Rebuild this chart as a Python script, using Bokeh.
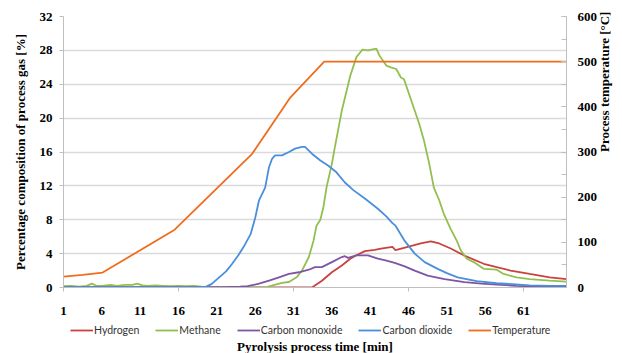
import math
from bokeh.plotting import figure
from bokeh.layouts import column
from bokeh.models import Range1d, LinearAxis, FixedTicker, Legend, LegendItem, Title
from bokeh.embed import file_html
from bokeh.resources import INLINE

# ---------------- data ----------------
x_ticks = [1, 6, 11, 16, 21, 26, 31, 36, 41, 46, 51, 56, 61]
x_marks = [1, 16, 31, 46, 61]
gas_ticks = [0, 4, 8, 12, 16, 20, 24, 28, 32]
temp_ticks = [0, 100, 200, 300, 400, 500, 600]
temp_minor = [0, 50, 100, 150, 200, 250, 300, 350, 400, 450, 500, 550, 600]

hydrogen_t = [1, 33.4, 34.7, 36.0, 37.3, 38.4, 39.2, 40.3, 41.6, 42.4, 43.9, 44.3, 45.9,
              47.6, 48.9, 50.0, 51.5, 53.2, 55.8, 57.5, 59.3, 61.8, 64.4, 66.6]
hydrogen = [0, 0, 0.8, 1.8, 2.6, 3.4, 3.8, 4.3, 4.45, 4.6, 4.8, 4.4, 4.8,
            5.2, 5.45, 5.2, 4.6, 3.8, 2.8, 2.4, 2.0, 1.6, 1.2, 1.0]

methane_t = [1, 2, 3, 4, 4.7, 5.3, 6, 7.1, 8, 9, 10, 10.6, 11.3, 12, 13, 14, 15, 16, 17, 18,
             19, 20, 22, 26, 27.5, 28.5, 29.5, 30.4, 31.4, 32.1, 33.0, 33.6, 34.0, 34.5,
             34.9, 35.3, 36.0, 36.4, 37.3, 38.4, 39.2, 40.0, 40.7, 41.8, 42.2, 43.1, 43.7,
             44.4, 45.0, 45.4, 45.9, 46.5, 47.4, 48.0, 48.7, 49.3, 50.0, 50.6, 51.5, 52.3,
             52.8, 53.6, 54.5, 55.8, 57.5, 58.4, 60.1, 61.8, 64.4, 66.6]
methane = [0.15, 0.2, 0.1, 0.2, 0.45, 0.2, 0.2, 0.3, 0.2, 0.3, 0.3, 0.45, 0.25, 0.2, 0.25,
           0.2, 0.15, 0.2, 0.15, 0.2, 0.1, 0.05, 0.02, 0.0, 0.05, 0.3, 0.55, 0.65, 1.2, 2.0,
           3.6, 5.5, 7.3, 8.0, 9.5, 11.8, 14.6, 16.6, 20.9, 25.0, 27.2, 28.1, 28.0, 28.2,
           27.4, 26.2, 26.0, 25.8, 24.8, 24.6, 23.3, 21.7, 19.3, 17.4, 14.6, 11.8, 10.3, 8.7,
           6.9, 5.5, 4.4, 3.4, 3.0, 2.2, 2.1, 1.6, 1.2, 1.0, 0.8, 0.7]

co_t = [1, 10, 20, 22, 24, 25, 26.5, 27.8, 29.1, 30.4, 31.7, 33.0, 33.8, 34.7, 36.0, 37.3,
        37.7, 38.1, 39.2, 40.7, 42.0, 43.0, 44.2, 45.5, 46.8, 48.5, 50.7, 53.3, 55.5, 57.5,
        60, 61.8, 64, 66.6]
co = [0.05, 0.05, 0.05, 0.05, 0.1, 0.15, 0.45, 0.8, 1.2, 1.6, 1.8, 2.1, 2.4, 2.4, 3.0, 3.6,
      3.7, 3.5, 3.8, 3.8, 3.4, 3.2, 2.9, 2.5, 2.0, 1.4, 1.0, 0.63, 0.45, 0.35, 0.2, 0.15,
      0.12, 0.1]

co2_t = [1, 10, 18.5, 19.6, 20.3, 21.3, 22.2, 23.0, 23.8, 24.5, 25.4, 26.0, 26.5, 27.3, 27.8,
         28.2, 28.6, 29.5, 30.4, 31.2, 32.1, 32.5, 33.4, 34.5, 35.5, 36.6, 37.7, 38.8, 40.3,
         42.0, 43.1, 43.9, 44.3, 45.5, 46.8, 48.1, 49.8, 51.0, 52.4, 54.9, 57.5, 59.5, 61.8,
         64.5, 66.6]
co2 = [0.05, 0.05, 0.05, 0.1, 0.4, 1.2, 1.9, 2.8, 3.8, 4.8, 6.3, 8.2, 10.3, 11.8, 14.2, 15.2,
       15.6, 15.6, 16.0, 16.4, 16.6, 16.6, 15.8, 15.0, 14.4, 13.6, 12.4, 11.5, 10.5, 9.3,
       8.4, 7.6, 7.3, 5.5, 4.0, 3.0, 2.2, 1.7, 1.2, 0.75, 0.5, 0.4, 0.25, 0.2, 0.2]

temp_t = [1, 3.5, 6.1, 15.5, 25.6, 30.6, 35.0, 66.6]
temp = [24, 28, 33, 128, 296, 421, 500, 500]

series = [
    ("Hydrogen", hydrogen_t, hydrogen, "#c9423f", None),
    ("Methane", methane_t, methane, "#92c050", None),
    ("Carbon monoxide", co_t, co, "#7f55a5", None),
    ("Carbon dioxide", co2_t, co2, "#4a8fdb", None),
    ("Temperature", temp_t, temp, "#f06d1e", "temp"),
]

# ---------------- styling ----------------
AXIS_C = "#bfbfbf"
SERIF = "Liberation Serif"
LW = 1.8

# ---------------- main chart ----------------
p = figure(width=622, height=322, output_backend="svg", toolbar_location=None,
           x_range=Range1d(1, 66.6), y_range=Range1d(0, 32),
           min_border_left=63, min_border_right=52, min_border_top=16, min_border_bottom=35)
p.extra_y_ranges = {"temp": Range1d(0, 600)}
p.outline_line_color = None
p.background_fill_color = "white"
p.border_fill_color = "white"

p.xgrid.visible = False
p.ygrid.grid_line_color = "#dadada"
p.ygrid.grid_line_width = 1.5

xa = p.xaxis[0]
xa.ticker = FixedTicker(ticks=x_ticks, minor_ticks=x_marks)
xa.major_tick_out = 0
xa.major_tick_in = 0
xa.minor_tick_out = 4
xa.minor_tick_in = 0
xa.axis_line_color = AXIS_C
xa.minor_tick_line_color = AXIS_C
xa.major_label_text_font = SERIF
xa.major_label_text_font_style = "bold"
xa.major_label_text_font_size = "13px"
xa.major_label_text_color = "black"
xa.major_label_standoff = 15

ya = p.yaxis[0]
ya.ticker = FixedTicker(ticks=gas_ticks)
ya.major_tick_out = 4
ya.major_tick_in = 0
ya.minor_tick_line_color = None
ya.axis_line_color = AXIS_C
ya.major_tick_line_color = AXIS_C
ya.major_label_text_font = SERIF
ya.major_label_text_font_style = "bold"
ya.major_label_text_font_size = "13px"
ya.major_label_text_color = "black"
ya.major_label_standoff = 7
ya.axis_label = "Percentage composition of process gas [%]"
ya.axis_label_text_font = SERIF
ya.axis_label_text_font_style = "bold"
ya.axis_label_text_font_size = "13px"
ya.axis_label_text_color = "black"
ya.axis_label_standoff = 9

ra = LinearAxis(y_range_name="temp", ticker=FixedTicker(ticks=temp_ticks, minor_ticks=temp_minor))
ra.major_tick_in = 5
ra.major_tick_out = 0
ra.minor_tick_in = 5
ra.minor_tick_out = 0
ra.axis_line_color = AXIS_C
ra.major_tick_line_color = AXIS_C
ra.minor_tick_line_color = AXIS_C
ra.major_label_text_font = SERIF
ra.major_label_text_font_style = "bold"
ra.major_label_text_font_size = "13px"
ra.major_label_text_color = "black"
ra.major_label_standoff = 11
ra.axis_label = "Process temperature [°C]"
ra.axis_label_text_font = SERIF
ra.axis_label_text_font_style = "bold"
ra.axis_label_text_font_size = "13px"
ra.axis_label_text_color = "black"
ra.axis_label_standoff = 4
try:
    ra.axis_label_orientation = math.pi / 2
except Exception:
    pass
p.add_layout(ra, "right")

for name, xs, ys, color, rng in series:
    if rng:
        p.line(xs, ys, line_color=color, line_width=LW, y_range_name=rng)
    else:
        p.line(xs, ys, line_color=color, line_width=LW)

# ---------------- legend strip with the x-axis title ----------------
q = figure(width=622, height=31, output_backend="svg", toolbar_location=None,
           x_axis_type=None, y_axis_type=None,
           x_range=Range1d(-10, -9), y_range=Range1d(-10, -9),
           min_border_left=63, min_border_right=0, min_border_top=0, min_border_bottom=0)
q.outline_line_color = None
q.background_fill_color = "white"
q.border_fill_color = "white"

items = []
for name, xs, ys, color, rng in series:
    r = q.line(xs, ys, line_color=color, line_width=LW)
    items.append(LegendItem(label=name, renderers=[r]))

legend = Legend(items=items, orientation="horizontal", location=(7, 0))
legend.label_text_font = "Lato"
legend.label_text_font_size = "10.5px"
legend.label_text_color = "#333333"
legend.glyph_width = 23
legend.glyph_height = 12
legend.label_height = 12
legend.label_standoff = 1
legend.spacing = 16
legend.padding = 0
legend.margin = 0
legend.border_line_color = None
legend.background_fill_alpha = 0
q.add_layout(legend, "center")

q.add_layout(Title(text="Pyrolysis process time [min]", align="center",
                   text_font=SERIF, text_font_style="bold", text_font_size="13px",
                   text_color="black", standoff=0, offset=11), "below")

layout = column(p, q, spacing=0)
open("out.html", "w").write(file_html(layout, INLINE))
